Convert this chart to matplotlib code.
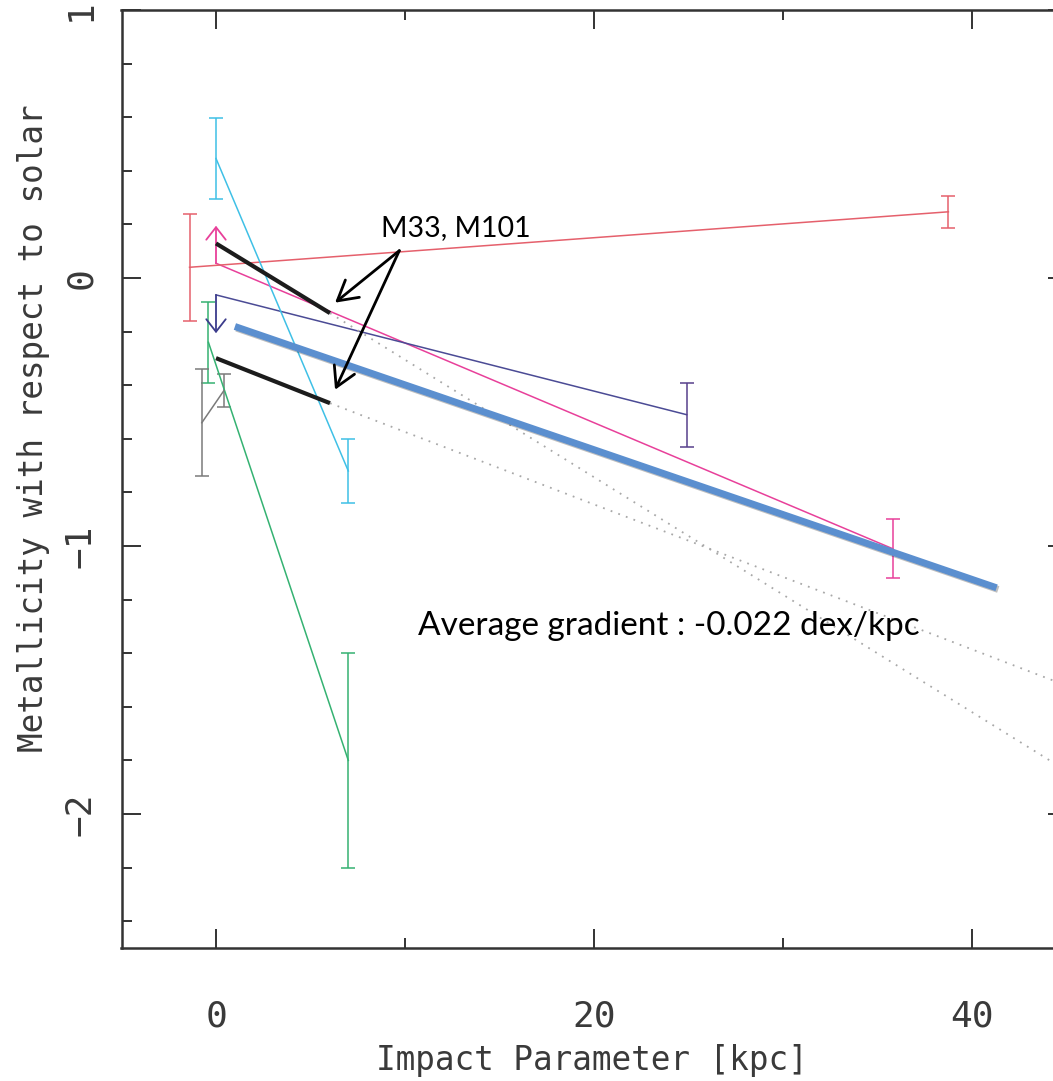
import matplotlib

matplotlib.use("Agg")
import matplotlib.pyplot as plt
import matplotlib.patheffects as pe
from matplotlib.ticker import MultipleLocator

# --- values (kpc, dex)
red_x = [-1.4, 38.75]
red_y = [0.04, 0.247]
red_err = [0.2, 0.06]

cyan_x = [0.0, 7.0]
cyan_y = [0.446, -0.72]
cyan_err = [0.15, 0.12]

green_x = [-0.4, 7.0]
green_y = [-0.24, -1.80]
green_err = [0.15, 0.40]

gray_x = [-0.75, 0.42]
gray_y = [-0.54, -0.42]
gray_err = [0.2, 0.06]

pink_x = [0.0, 35.8]
pink_y = [0.055, -1.01]
pink_err = 0.11
pink_limit = 0.195        # lower limit arrow tip at x = 0

navy_x = [0.0, 24.9]
navy_y = [-0.063, -0.51]
navy_err = 0.12
navy_limit = -0.206       # upper limit arrow tip at x = 0

# M33 / M101 gradients and their dotted extrapolations
m33_x = [0.0, 6.03]
m33_y = [0.129, -0.131]
m33_ext_x = [6.03, 45.0]
m33_ext_y = [-0.131, -1.839]
m101_x = [0.0, 6.03]
m101_y = [-0.299, -0.467]
m101_ext_x = [6.03, 45.0]
m101_ext_y = [-0.467, -1.521]

avg_x = [1.0, 41.3]
avg_y = [-0.181, -1.156]

arrow_from = (9.7, 0.102)
arrow_to = [(6.3, -0.092), (6.3, -0.417)]

AXFONT = "DejaVu Sans Mono"
NOTEFONT = "Lato"

fig = plt.figure(figsize=(10.53, 10.81), dpi=100)
ax = fig.add_axes([121.5 / 1053, 133 / 1081, 945 / 1053, 938 / 1081])

eb = dict(elinewidth=1.1, capsize=5, capthick=1.1, lw=1.1)
ax.errorbar(red_x, red_y, yerr=red_err, color="#e5606c", **eb)
ax.errorbar(cyan_x, cyan_y, yerr=cyan_err, color="#3fc0e6", **eb)
ax.errorbar(green_x, green_y, yerr=green_err, color="#35b272", **eb)
ax.errorbar(gray_x, gray_y, yerr=gray_err, color="#7a7a7a", **eb)

ax.plot(pink_x, pink_y, color="#e8409a", lw=1.1)
ax.errorbar(pink_x[1:], pink_y[1:], yerr=pink_err, color="#e8409a", **eb)
ax.annotate("", xy=(pink_x[0], pink_limit), xytext=(pink_x[0], pink_y[0]),
            arrowprops=dict(arrowstyle="->,head_length=0.45,head_width=0.35",
                            color="#e8409a", lw=1.3, mutation_scale=20,
                            shrinkA=0, shrinkB=0))

ax.plot(navy_x, navy_y, color="#4b4b95", lw=1.1)
ax.errorbar(navy_x[1:], navy_y[1:], yerr=navy_err, color="#57408c", **eb)
ax.annotate("", xy=(navy_x[0], navy_limit), xytext=(navy_x[0], navy_y[0]),
            arrowprops=dict(arrowstyle="->,head_length=0.45,head_width=0.35",
                            color="#3c3c8c", lw=1.3, mutation_scale=20,
                            shrinkA=0, shrinkB=0))

dots = dict(color="#a8a8a8", lw=1.3, ls=(0, (1, 3.5)))
ax.plot(m33_ext_x, m33_ext_y, **dots)
ax.plot(m101_ext_x, m101_ext_y, **dots)
ax.plot(m33_x, m33_y, color="#1c1c1c", lw=3, solid_capstyle="butt", zorder=4)
ax.plot(m101_x, m101_y, color="#1c1c1c", lw=3, solid_capstyle="butt", zorder=4)

ax.plot(avg_x, avg_y, color="#5b8fcf", lw=5, solid_capstyle="butt", zorder=5,
        path_effects=[pe.SimpleLineShadow(offset=(1.2, -1.2), alpha=0.25),
                      pe.Normal()])

for tip in arrow_to:
    ax.annotate("", xy=tip, xytext=arrow_from,
                arrowprops=dict(arrowstyle="->,head_length=0.7,head_width=0.4",
                                color="black", lw=2.0, mutation_scale=20,
                                shrinkA=0, shrinkB=0), zorder=6)
ax.text(12.7, 0.186, "M33, M101", fontsize=20.5, family=NOTEFONT,
        ha="center", va="center", zorder=6)
ax.text(10.7, -1.30, "Average gradient : -0.022 dex/kpc", fontsize=24,
        family=NOTEFONT, ha="left", va="center", zorder=6)

ax.set_xlim(-5, 45)
ax.set_ylim(-2.5, 1)
ax.xaxis.set_major_locator(MultipleLocator(20))
ax.xaxis.set_minor_locator(MultipleLocator(10))
ax.yaxis.set_major_locator(MultipleLocator(1))
ax.yaxis.set_minor_locator(MultipleLocator(0.2))
ax.tick_params(which="both", direction="in", top=True, right=True,
               color="#333333", labelcolor="#3a3a3a")
ax.tick_params(which="major", length=13.5, width=1.4, labelsize=26)
ax.tick_params(which="minor", length=7, width=1.4)
ax.tick_params(axis="x", pad=37)
ax.tick_params(axis="y", pad=17, labelrotation=90)
for lab in ax.get_xticklabels() + ax.get_yticklabels():
    lab.set_family(AXFONT)
for lab in ax.get_yticklabels():
    lab.set_va("center")
for s in ax.spines.values():
    s.set_linewidth(1.8)
    s.set_color("#333333")

ax.set_xlabel("Impact Parameter [kpc]", family=AXFONT, fontsize=23.5,
              color="#3a3a3a")
ax.set_ylabel("Metallicity with respect to solar", family=AXFONT,
              fontsize=23.5, color="#3a3a3a")
ax.xaxis.set_label_coords(0.498, -0.102)
ax.yaxis.set_label_coords(-0.076, 0.554)

fig.savefig("out.png", dpi=100)
